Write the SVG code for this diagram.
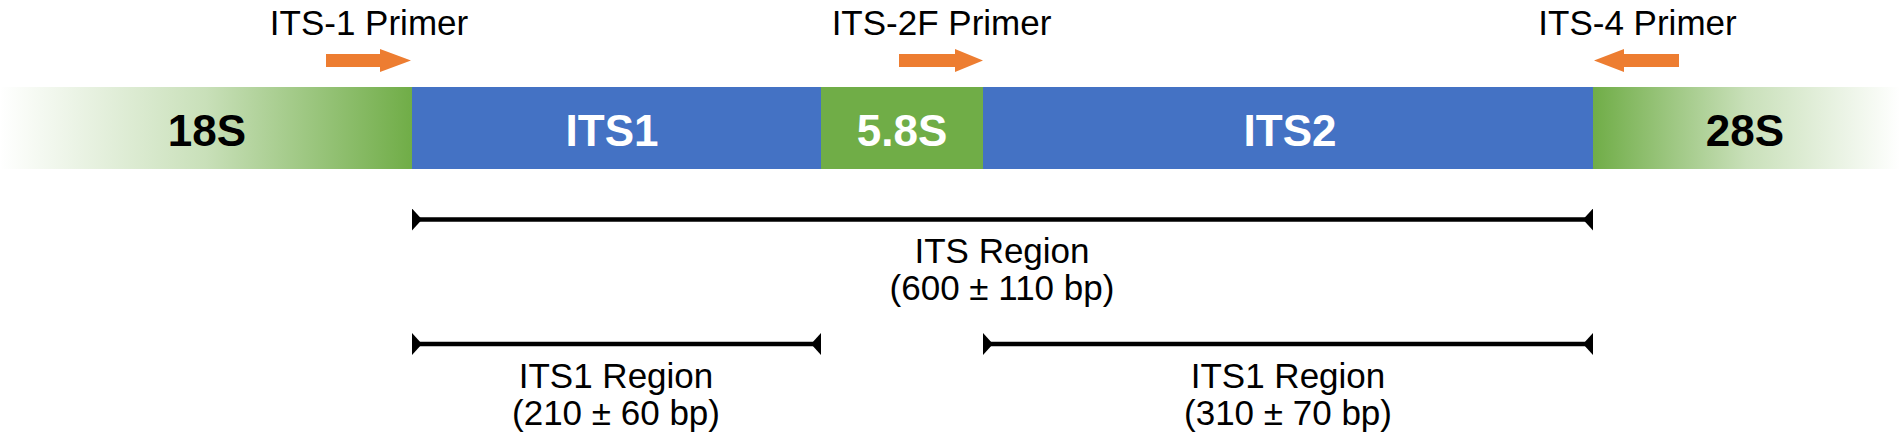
<svg xmlns="http://www.w3.org/2000/svg" width="1902" height="437" viewBox="0 0 1902 437">
  <style>
    .lbl { font-family: "Liberation Sans", Arial, sans-serif; font-size: 35px; fill: #000; text-anchor: middle; }
    .seg { font-family: "Liberation Sans", Arial, sans-serif; font-size: 44px; font-weight: bold; text-anchor: middle; }
    .wht { fill: #ffffff; }
    .blk { fill: #000000; }
    .primer { fill: #ED7D31; }
    .span { stroke: #000; stroke-width: 4.5; fill: none; marker-start: url(#tickStart); marker-end: url(#tickEnd); }
  </style>
  <defs>
    <linearGradient id="g18" x1="0" y1="0" x2="412" y2="0" gradientUnits="userSpaceOnUse">
      <stop offset="0" stop-color="#70AD47" stop-opacity="0"/>
      <stop offset="0.5" stop-color="#70AD47" stop-opacity="0.38"/>
      <stop offset="1" stop-color="#70AD47" stop-opacity="1"/>
    </linearGradient>
    <linearGradient id="g28" x1="1593" y1="0" x2="1900" y2="0" gradientUnits="userSpaceOnUse">
      <stop offset="0" stop-color="#70AD47" stop-opacity="1"/>
      <stop offset="0.5" stop-color="#70AD47" stop-opacity="0.38"/>
      <stop offset="1" stop-color="#70AD47" stop-opacity="0"/>
    </linearGradient>
    <marker id="tickStart" viewBox="0 0 10 22" refX="0" refY="11" markerWidth="10" markerHeight="22" markerUnits="userSpaceOnUse" orient="auto">
      <path d="M0,0 L0,22 L10,11 Z" fill="#000"/>
    </marker>
    <marker id="tickEnd" viewBox="0 0 10 22" refX="10" refY="11" markerWidth="10" markerHeight="22" markerUnits="userSpaceOnUse" orient="auto">
      <path d="M10,0 L10,22 L0,11 Z" fill="#000"/>
    </marker>
  </defs>

  <g id="node-18S">
    <rect x="0" y="87" width="412" height="82" fill="url(#g18)"/>
    <text class="seg blk" x="207" y="146">18S</text>
  </g>
  <g id="node-ITS1">
    <rect x="412" y="87" width="409" height="82" fill="#4472C4"/>
    <text class="seg wht" x="612" y="146">ITS1</text>
  </g>
  <g id="node-5.8S">
    <rect x="821" y="87" width="162" height="82" fill="#70AD47"/>
    <text class="seg wht" x="902" y="146">5.8S</text>
  </g>
  <g id="node-ITS2">
    <rect x="983" y="87" width="610" height="82" fill="#4472C4"/>
    <text class="seg wht" x="1290" y="146">ITS2</text>
  </g>
  <g id="node-28S">
    <rect x="1593" y="87" width="309" height="82" fill="url(#g28)"/>
    <text class="seg blk" x="1745" y="146">28S</text>
  </g>

  <g id="primer-ITS1">
    <text class="lbl" x="369" y="35">ITS-1 Primer</text>
    <path class="primer" d="M326,54 L380,54 L380,49 L411,60.5 L380,72 L380,67 L326,67 Z"/>
  </g>
  <g id="primer-ITS2F">
    <text class="lbl" x="941.5" y="35">ITS-2F Primer</text>
    <path class="primer" d="M899,54 L955,54 L955,49 L983,60.5 L955,72 L955,67 L899,67 Z"/>
  </g>
  <g id="primer-ITS4">
    <text class="lbl" x="1637.5" y="35">ITS-4 Primer</text>
    <path class="primer" d="M1679,54 L1624,54 L1624,49 L1594,60.5 L1624,72 L1624,67 L1679,67 Z"/>
  </g>

  <g id="connectors">
    <line class="span" x1="412" y1="219.5" x2="1593" y2="219.5"/>
    <line class="span" x1="412" y1="344" x2="821" y2="344"/>
    <line class="span" x1="983" y1="344" x2="1593" y2="344"/>
  </g>

  <g id="label-ITS-region">
    <text class="lbl" x="1002" y="263">ITS Region</text>
    <text class="lbl" x="1002" y="300">(600 ± 110 bp)</text>
  </g>
  <g id="label-ITS1-region">
    <text class="lbl" x="616" y="388">ITS1 Region</text>
    <text class="lbl" x="616" y="425">(210 ± 60 bp)</text>
  </g>
  <g id="label-ITS2-region">
    <text class="lbl" x="1288" y="388">ITS1 Region</text>
    <text class="lbl" x="1288" y="425">(310 ± 70 bp)</text>
  </g>
</svg>
